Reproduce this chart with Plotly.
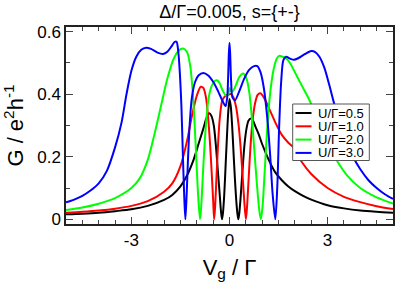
import plotly.graph_objects as go

# ---- data ----
labels = ["U/Γ=0.5", "U/Γ=1.0", "U/Γ=2.0", "U/Γ=3.0"]
colors = ["#000000", "#ff0000", "#00ff00", "#0000ff"]

x_u05 = [-5, -4.5, -4, -3.5, -3, -2.5, -2, -1.75, -1.5, -1.3, -1.1, -0.95, -0.8, -0.7, -0.62,
         -0.55, -0.48, -0.42, -0.36, -0.3, -0.26, -0.23, -0.2, -0.16, -0.12, -0.08, -0.04, 0,
         0.04, 0.08, 0.12, 0.16, 0.2, 0.24, 0.27, 0.3, 0.34, 0.4, 0.46, 0.52, 0.58, 0.65, 0.72,
         0.8, 0.9, 1.0, 1.2, 1.4, 1.6, 1.8, 2.0, 2.25, 2.5, 3.0, 3.5, 4.0, 4.5, 5.0]
g_u05 = [0.016, 0.018, 0.021, 0.026, 0.032, 0.043, 0.062, 0.078, 0.105, 0.14, 0.19, 0.24, 0.29, 0.325, 0.339,
         0.33, 0.30, 0.24, 0.16, 0.08, 0.025, 0.0, 0.02, 0.08, 0.17, 0.26, 0.34, 0.385,
         0.36, 0.30, 0.22, 0.14, 0.07, 0.02, 0.0, 0.02, 0.07, 0.16, 0.24, 0.29, 0.315, 0.322, 0.315,
         0.295, 0.27, 0.24, 0.19, 0.15, 0.125, 0.105, 0.09, 0.075, 0.063, 0.045, 0.035, 0.028, 0.024, 0.021]

x_u10 = [-5, -4.5, -4, -3.5, -3, -2.5, -2, -1.75, -1.5, -1.3, -1.15, -1.0, -0.88, -0.8, -0.72, -0.65,
         -0.6, -0.55, -0.5, -0.47, -0.44, -0.4, -0.35, -0.3, -0.22, -0.12, -0.05, 0, 0.05, 0.12, 0.2,
         0.28, 0.34, 0.4, 0.45, 0.5, 0.53, 0.58, 0.64, 0.7, 0.78, 0.86, 0.94, 1.02, 1.1, 1.25, 1.4,
         1.6, 1.8, 1.95, 2.2, 2.5, 3.0, 3.5, 4.0, 4.5, 5.0]
g_u10 = [0.021, 0.024, 0.028, 0.034, 0.043, 0.058, 0.088, 0.115, 0.17, 0.25, 0.33, 0.395, 0.424, 0.42, 0.39, 0.32,
         0.25, 0.16, 0.06, 0.0, 0.04, 0.13, 0.24, 0.32, 0.38, 0.395, 0.398, 0.40, 0.40, 0.39, 0.36,
         0.30, 0.23, 0.14, 0.06, 0.0, 0.03, 0.12, 0.23, 0.31, 0.37, 0.398, 0.403, 0.395, 0.38, 0.345, 0.31,
         0.27, 0.245, 0.23, 0.185, 0.145, 0.10, 0.072, 0.055, 0.042, 0.033]

x_u20 = [-5, -4.5, -4, -3.5, -3, -2.75, -2.5, -2.3, -2.1, -1.9, -1.7, -1.55, -1.42, -1.3, -1.2, -1.12,
         -1.05, -1.0, -0.95, -0.9, -0.86, -0.8, -0.73, -0.65, -0.55, -0.45, -0.38, -0.3, -0.2, -0.1,
         -0.04, 0, 0.04, 0.1, 0.2, 0.3, 0.42, 0.52, 0.6, 0.68, 0.76, 0.84, 0.91, 0.96, 1.01, 1.08,
         1.16, 1.25, 1.35, 1.45, 1.53, 1.62, 1.72, 1.85, 2.0, 2.2, 2.45, 2.75, 3.0, 3.3, 3.6, 4.0, 4.5, 5.0]
g_u20 = [0.030, 0.038, 0.050, 0.068, 0.10, 0.13, 0.19, 0.27, 0.36, 0.45, 0.515, 0.54, 0.546, 0.535, 0.49, 0.40,
         0.27, 0.16, 0.06, 0.0, 0.05, 0.17, 0.29, 0.38, 0.425, 0.442, 0.445, 0.435, 0.41, 0.395,
         0.40, 0.42, 0.41, 0.41, 0.43, 0.455, 0.466, 0.45, 0.41, 0.33, 0.22, 0.11, 0.03, 0.0, 0.04, 0.16,
         0.30, 0.41, 0.48, 0.515, 0.523, 0.52, 0.515, 0.50, 0.47, 0.43, 0.38, 0.30, 0.24, 0.185, 0.14, 0.10, 0.07, 0.05]

x_u30 = [-5, -4.75, -4.5, -4.25, -4, -3.75, -3.5, -3.3, -3.15, -3.0, -2.85, -2.7, -2.55, -2.4, -2.2,
         -2.03, -1.9, -1.78, -1.68, -1.62, -1.57, -1.52, -1.47, -1.43, -1.39, -1.35, -1.31, -1.27,
         -1.22, -1.15, -1.05, -0.95, -0.8, -0.65, -0.5, -0.35, -0.22, -0.12, -0.07, -0.04, -0.02, 0,
         0.02, 0.05, 0.09, 0.17, 0.3, 0.45, 0.6, 0.75, 0.85, 0.95, 1.05, 1.15, 1.24, 1.32, 1.4, 1.46,
         1.52, 1.58, 1.65, 1.73, 1.85, 1.97, 2.1, 2.3, 2.5, 2.62, 2.75, 2.9, 3.05, 3.2, 3.4, 3.6, 3.8,
         4.0, 4.25, 4.5, 4.75, 5.0]
g_u30 = [0.054, 0.063, 0.075, 0.092, 0.115, 0.155, 0.23, 0.31, 0.40, 0.475, 0.52, 0.542, 0.549, 0.545, 0.533,
         0.529, 0.536, 0.552, 0.567, 0.568, 0.54, 0.47, 0.36, 0.22, 0.09, 0.0, 0.08, 0.19,
         0.30, 0.39, 0.44, 0.46, 0.468, 0.46, 0.44, 0.41, 0.38, 0.362, 0.39, 0.46, 0.53, 0.565,
         0.53, 0.44, 0.39, 0.381, 0.41, 0.45, 0.478, 0.49, 0.49, 0.47, 0.42, 0.33, 0.21, 0.08, 0.0, 0.10,
         0.30, 0.44, 0.51, 0.52, 0.514, 0.51, 0.515, 0.528, 0.538, 0.535, 0.52, 0.485, 0.43, 0.37, 0.30, 0.24, 0.195,
         0.16, 0.125, 0.10, 0.08, 0.065]

xs = [x_u05, x_u10, x_u20, x_u30]
gs = [g_u05, g_u10, g_u20, g_u30]

x_tickvals = [-3, 0, 3]
x_ticktext = ["-3", "0", "3"]
y_tickvals = [0, 0.2, 0.4, 0.6]
y_ticktext = ["0", "0.2", "0.4", "0.6"]

FONT = "Liberation Sans, Arial, Helvetica, sans-serif"

fig = go.Figure()
for x, g, name, c in zip(xs, gs, labels, colors):
    fig.add_trace(go.Scatter(x=x, y=g, mode="lines", name=name, showlegend=False,
                             line=dict(color=c, width=2, shape="spline", smoothing=0.8)))

fig.update_layout(
    width=395, height=284,
    margin=dict(l=66, r=2, t=27, b=60, autoexpand=False),
    showlegend=False,
    paper_bgcolor="white", plot_bgcolor="white",
    font=dict(family=FONT, color="black"),
    title=dict(text="Δ/Γ=0.005, s={+-}", x=0.5, xref="paper", y=1 - 12 / 284, yref="container",
               xanchor="center", yanchor="middle", font=dict(size=18, family=FONT)),
)

axis_common = dict(showline=True, linecolor="#222", linewidth=1.5, mirror="allticks",
                   ticks="inside", ticklen=7, tickwidth=1, tickcolor="#444", automargin=False,
                   showgrid=False, zeroline=False, tickfont=dict(size=17, family=FONT))

fig.update_xaxes(range=[-5, 5], tickvals=x_tickvals, ticktext=x_ticktext,
                 minor=dict(ticks="inside", ticklen=4, dtick=0.5, tick0=0, tickcolor="#444", showgrid=False),
                 title=dict(text="V<sub>g</sub> / Γ", font=dict(size=22, family=FONT), standoff=10),
                 **axis_common)
fig.update_yaxes(range=[-0.015, 0.615], tickvals=y_tickvals, ticktext=y_ticktext,
                 minor=dict(ticks="inside", ticklen=4, dtick=0.1, tick0=0, tickcolor="#444", showgrid=False),
                 title=dict(text="G / e<sup>2</sup>h<sup>-1</sup>", font=dict(size=22, family=FONT), standoff=8),
                 **axis_common)

# ---- legend box (drawn as shapes + text, like the reference's compact legend) ----
def px_x(p):
    return (p - 66) / (393 - 66)

def px_y(p):
    return (224 - p) / (224 - 27)

fig.add_shape(type="rect", xref="paper", yref="paper",
              x0=px_x(292.7), x1=px_x(369.3), y0=px_y(160.5), y1=px_y(104),
              line=dict(color="#555", width=1), fillcolor="white", layer="above")
row_y = [113, 126.3, 139.6, 152.9]
for name, c, ry in zip(labels, colors, row_y):
    fig.add_shape(type="line", xref="paper", yref="paper",
                  x0=px_x(295.5), x1=px_x(311.5), y0=px_y(ry), y1=px_y(ry),
                  line=dict(color=c, width=2), layer="above")
    fig.add_annotation(text=name, xref="paper", yref="paper", x=px_x(315.5), y=px_y(ry),
                       xanchor="left", yanchor="middle", showarrow=False,
                       font=dict(size=13, family=FONT, color="black"))

fig.write_html("out.html", config={"displayModeBar": False},
               post_script="document.body.style.margin='0px';document.body.style.overflow='hidden';")
